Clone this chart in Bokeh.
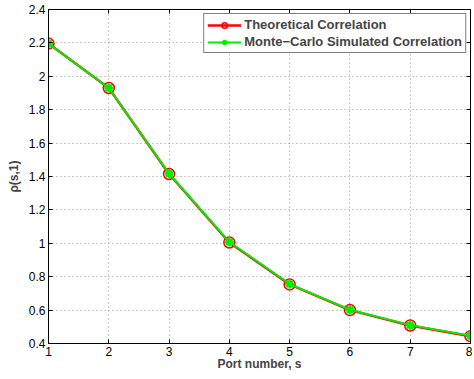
from bokeh.plotting import figure
from bokeh.models import LinearAxis, Range1d, FixedTicker, Legend, LegendItem
from bokeh.embed import file_html
from bokeh.resources import INLINE

ports = [1, 2, 3, 4, 5, 6, 7, 8]
theoretical = [2.196, 1.93, 1.415, 1.005, 0.754, 0.600, 0.508, 0.444]
simulated = [2.196, 1.93, 1.418, 1.008, 0.756, 0.602, 0.510, 0.446]
x_ticks = [1, 2, 3, 4, 5, 6, 7, 8]
y_ticks = [0.4, 0.6, 0.8, 1.0, 1.2, 1.4, 1.6, 1.8, 2.0, 2.2, 2.4]
y_tick_labels = ["0.4", "0.6", "0.8", "1", "1.2", "1.4", "1.6", "1.8", "2", "2.2", "2.4"]

FONT = "Liberation Sans"

p = figure(width=472, height=373, output_backend="svg", toolbar_location=None,
           x_range=Range1d(1, 8), y_range=Range1d(0.4, 2.4),
           min_border_left=48, min_border_right=2, min_border_top=9, min_border_bottom=27)
p.outline_line_color = "black"
p.outline_line_width = 1

for ax in [p.xaxis[0], p.yaxis[0]]:
    ax.major_label_text_font = FONT
    ax.major_label_text_font_size = "12px"
    ax.major_label_text_color = "black"
    ax.axis_label_text_font = FONT
    ax.axis_label_text_font_size = "12px"
    ax.axis_label_text_font_style = "bold"
    ax.major_tick_in = 4
    ax.major_tick_out = 0
    ax.minor_tick_in = 0
    ax.minor_tick_out = 0
    ax.axis_line_color = "black"
    ax.major_tick_line_color = "black"

p.xaxis.ticker = FixedTicker(ticks=x_ticks)
p.yaxis.ticker = FixedTicker(ticks=y_ticks)
p.yaxis.major_label_overrides = {t: l for t, l in zip(y_ticks, y_tick_labels)}
p.xaxis.axis_label = "Port number, s"
p.yaxis.axis_label = "ρ(s,1)"
p.xaxis.axis_label_standoff = -2
p.yaxis.axis_label_standoff = 5
p.xaxis.major_label_standoff = 3
p.yaxis.major_label_standoff = 3

for loc, tk in [("right", y_ticks), ("above", x_ticks)]:
    a = LinearAxis(ticker=FixedTicker(ticks=tk),
                   major_label_overrides={t: "" for t in tk},
                   major_tick_in=4, major_tick_out=0, minor_tick_in=0, minor_tick_out=0,
                   major_label_standoff=0, axis_line_color="black")
    p.add_layout(a, loc)

p.xgrid.ticker = FixedTicker(ticks=x_ticks)
p.ygrid.ticker = FixedTicker(ticks=y_ticks)
p.grid.grid_line_color = "#999999"
p.grid.grid_line_dash = "1 3"
p.grid.grid_line_width = 1

r1 = p.line(ports, theoretical, line_color="red", line_width=2.5)
r1m = p.scatter(ports, theoretical, marker="circle", size=11, line_color="red",
                fill_color=None, line_width=1.5)
r2 = p.line(ports, simulated, line_color="#00ee00", line_width=2)
r2m = p.scatter(ports, simulated, marker="asterisk", size=9, line_color="#00ee00",
                line_width=2.5)
r2m2 = p.scatter(ports, simulated, marker="circle", size=6, line_color=None,
                 fill_color="#00ee00")

legend = Legend(items=[
    LegendItem(label="Theoretical Correlation", renderers=[r1, r1m]),
    LegendItem(label="Monte\u2212Carlo Simulated Correlation", renderers=[r2, r2m]),
], location="top_right")
legend.border_line_color = "black"
legend.border_line_width = 1
legend.background_fill_alpha = 1
legend.label_text_font = FONT
legend.label_text_font_size = "13px"
legend.label_text_font_style = "bold"
legend.label_height = 14
legend.glyph_height = 14
legend.glyph_width = 34
legend.label_standoff = 3
legend.padding = 3
legend.spacing = 2
legend.margin = 4
p.add_layout(legend)

open("out.html", "w").write(file_html(p, INLINE))
